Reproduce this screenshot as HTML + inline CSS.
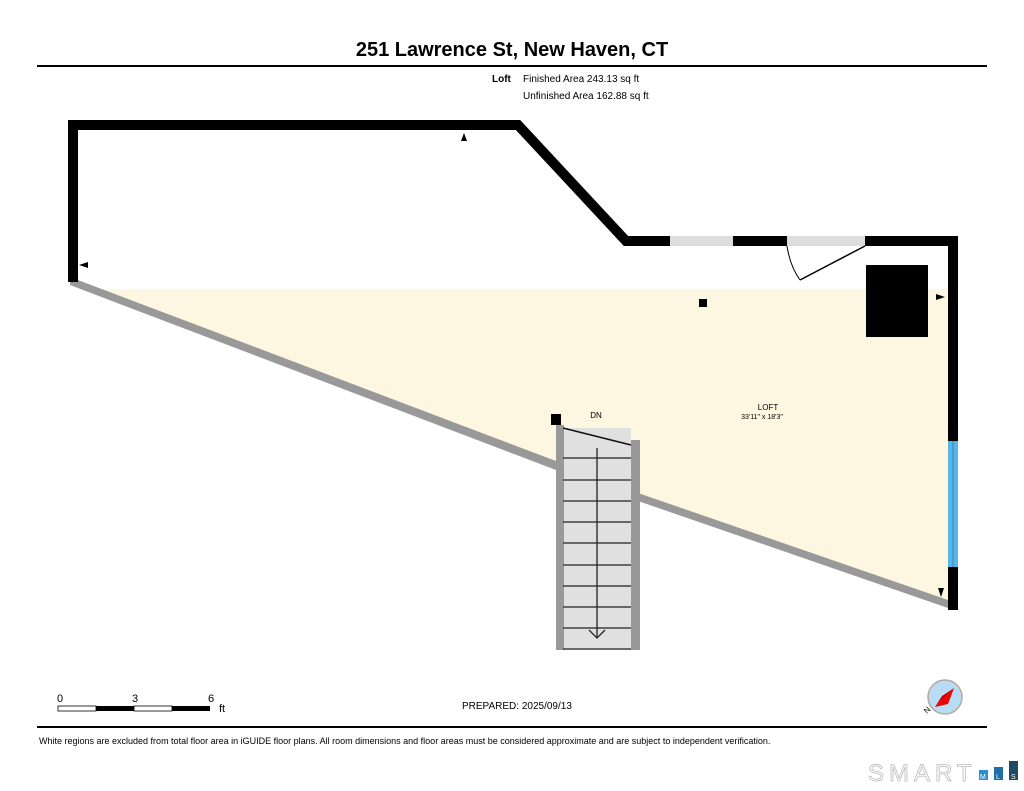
<!DOCTYPE html>
<html><head><meta charset="utf-8"><style>
body{margin:0;background:#fff;}
svg{display:block;font-family:"Liberation Sans",Arial,sans-serif;}
</style></head><body>
<svg width="1024" height="791" viewBox="0 0 1024 791" xmlns="http://www.w3.org/2000/svg">
<rect width="1024" height="791" fill="#fff"/>
<text x="512" y="56" text-anchor="middle" font-size="20" font-weight="bold">251 Lawrence St, New Haven, CT</text>
<rect x="37" y="65" width="950" height="2" fill="#000"/>
<text x="492" y="82" font-size="10" font-weight="bold">Loft</text>
<text x="523" y="82" font-size="10">Finished Area 243.13 sq ft</text>
<text x="523" y="99" font-size="10">Unfinished Area 162.88 sq ft</text>

<polygon points="110,289 948,289 948,602 638,497 638,445 560,428 555,465 78,284 100,289" fill="#fdf6e0"/>
<polygon points="70,277 556,461 556,470 70,285" fill="#999"/>
<polygon points="638,493 948,600 948,608 638,501" fill="#999"/>
<rect x="563" y="428" width="68" height="222" fill="#e0e0e0"/>
<rect x="556" y="425" width="8" height="225" fill="#999"/>
<rect x="631" y="440" width="9" height="210" fill="#999"/>
<line x1="563" y1="428" x2="631" y2="445" stroke="#111" stroke-width="1.5"/>
<g stroke="#222" stroke-width="1.3">
<line x1="563" y1="458" x2="631" y2="458"/><line x1="563" y1="480" x2="631" y2="480"/>
<line x1="563" y1="501" x2="631" y2="501"/><line x1="563" y1="522" x2="631" y2="522"/>
<line x1="563" y1="543" x2="631" y2="543"/><line x1="563" y1="565" x2="631" y2="565"/>
<line x1="563" y1="586" x2="631" y2="586"/><line x1="563" y1="607" x2="631" y2="607"/>
<line x1="563" y1="628" x2="631" y2="628"/><line x1="563" y1="649" x2="631" y2="649"/>
<line x1="597" y1="448" x2="597" y2="637"/>
<polyline points="589,630 597,638 605,630" fill="none"/>
</g>
<rect x="551" y="414" width="10" height="11" fill="#000"/>
<text x="596" y="418" text-anchor="middle" font-size="8">DN</text>
<text x="768" y="410" text-anchor="middle" font-size="8">LOFT</text>
<text x="762" y="419" text-anchor="middle" font-size="7">33'11" x 18'3"</text>

<polyline points="73,282 73,125 518,125 626,241 953,241 953,610" fill="none" stroke="#000" stroke-width="10" stroke-linejoin="miter"/>
<rect x="670" y="236" width="63" height="10" fill="#ddd"/>
<rect x="787" y="236" width="78" height="10" fill="#ddd"/>
<rect x="948" y="441" width="10" height="126" fill="#5ab4e6"/>
<line x1="953" y1="441" x2="953" y2="567" stroke="#2a8ac8" stroke-width="1"/>
<line x1="865" y1="246" x2="800" y2="280" stroke="#000" stroke-width="1.5"/>
<path d="M787,246 Q790,266 800,280" fill="none" stroke="#000" stroke-width="1"/>
<rect x="866" y="265" width="62" height="72" fill="#000"/>
<rect x="699" y="299" width="8" height="8" fill="#000"/>
<polygon points="464,133 461,141 467,141" fill="#000"/>
<polygon points="79,265 88,262 88,268" fill="#000"/>
<polygon points="945,297 936,294 936,300" fill="#000"/>
<polygon points="941,597 938,588 944,588" fill="#000"/>

<text x="60" y="702" text-anchor="middle" font-size="11">0</text>
<text x="135" y="702" text-anchor="middle" font-size="11">3</text>
<text x="211" y="702" text-anchor="middle" font-size="11">6</text>
<text x="219" y="712" font-size="11">ft</text>
<rect x="58" y="706" width="38" height="5" fill="#fff" stroke="#000" stroke-width="0.8"/>
<rect x="96" y="706" width="38" height="5" fill="#000"/>
<rect x="134" y="706" width="38" height="5" fill="#fff" stroke="#000" stroke-width="0.8"/>
<rect x="172" y="706" width="38" height="5" fill="#000"/>
<text x="462" y="709" font-size="10">PREPARED: 2025/09/13</text>
<circle cx="945" cy="697" r="17" fill="#b8dcf4" stroke="#b9a89a" stroke-width="1.5"/>
<polygon points="935,707 954,688 948,704" fill="#e00"/>
<polygon points="935,707 954,688 942,696" fill="#c00"/>
<text x="927" y="714" font-size="8" transform="rotate(-45 927 714)">N</text>
<rect x="37" y="726" width="950" height="2" fill="#000"/>
<text x="39" y="744" font-size="9">White regions are excluded from total floor area in iGUIDE floor plans. All room dimensions and floor areas must be considered approximate and are subject to independent verification.</text>
<text x="868" y="781" font-size="24" fill="#fff" stroke="#bbb" stroke-width="0.8" letter-spacing="5">SMART</text>
<rect x="979" y="770" width="9" height="10" fill="#2b8fd0"/>
<rect x="994" y="767" width="9" height="13" fill="#1c6fa8"/>
<rect x="1009" y="761" width="9" height="19" fill="#1e4a62"/>
<text x="980" y="779" font-size="7" fill="#fff">M</text>
<text x="996" y="779" font-size="7" fill="#fff">L</text>
<text x="1011" y="779" font-size="7" fill="#fff">S</text>
</svg>
</body></html>
